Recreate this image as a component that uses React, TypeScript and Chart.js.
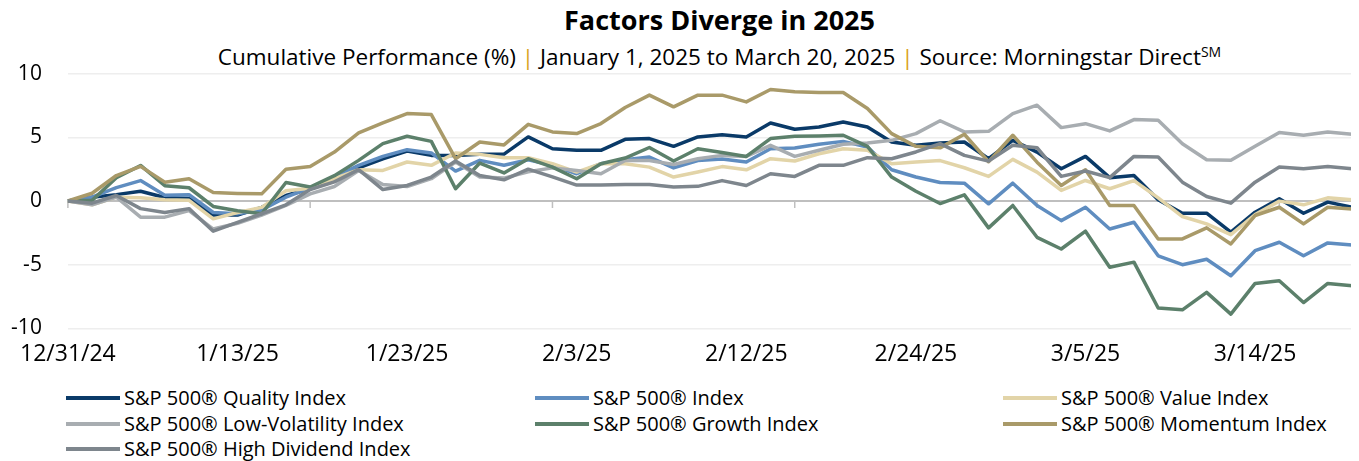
import React, { useEffect, useRef } from "react";
import { Chart, registerables } from "chart.js";

Chart.register(...registerables);

const FONT = "'Open Sans', sans-serif";

const dates = [
  "12/31/24", "1/2/25", "1/3/25", "1/6/25", "1/7/25", "1/8/25", "1/10/25", "1/13/25", "1/14/25", "1/15/25",
  "1/16/25", "1/17/25", "1/21/25", "1/22/25", "1/23/25", "1/24/25", "1/27/25", "1/28/25", "1/29/25", "1/30/25",
  "1/31/25", "2/3/25", "2/4/25", "2/5/25", "2/6/25", "2/7/25", "2/10/25", "2/11/25", "2/12/25", "2/13/25",
  "2/14/25", "2/18/25", "2/19/25", "2/20/25", "2/21/25", "2/24/25", "2/25/25", "2/26/25", "2/27/25", "2/28/25",
  "3/3/25", "3/4/25", "3/5/25", "3/6/25", "3/7/25", "3/10/25", "3/11/25", "3/12/25", "3/13/25", "3/14/25",
  "3/17/25", "3/18/25", "3/19/25", "3/20/25",
];

const quality = [
  0, 0.3, 0.5, 0.77, 0.27, 0.2, -1.1, -1.1, -0.5, 0.43,
  0.96, 1.75, 2.61, 3.31, 3.92, 3.58, 3.58, 3.66, 3.68, 5.03,
  4.1, 3.98, 3.98, 4.84, 4.9, 4.29, 5.03, 5.2, 5.03, 6.12,
  5.63, 5.81, 6.2, 5.81, 4.63, 4.37, 4.55, 4.63, 3.32, 4.76,
  3.84, 2.53, 3.5, 1.83, 2.01, 0.1, -0.96, -0.96, -2.45, -0.88,
  0.17, -0.96, -0.09, -0.49,
];
const sp500 = [
  0, 0.3, 1.05, 1.6, 0.45, 0.5, -0.9, -1.0, -0.7, 0.3,
  1.04, 1.88, 2.8, 3.5, 4.03, 3.77, 2.35, 3.19, 2.8, 3.24,
  2.8, 2.14, 2.93, 3.24, 3.45, 2.6, 3.18, 3.3, 3.06, 4.1,
  4.16, 4.45, 4.68, 4.24, 2.45, 1.88, 1.45, 1.4, -0.22, 1.4,
  -0.35, -1.54, -0.49, -2.2, -1.67, -4.3, -5.0, -4.57, -5.87, -3.9,
  -3.24, -4.3, -3.29, -3.45,
];
const value = [
  0, -0.3, 0.3, 0.25, 0.1, 0.05, -1.4, -0.9, -0.5, 0.8,
  1.0, 1.75, 2.46, 2.4, 3.06, 2.8, 3.77, 3.66, 3.4, 3.4,
  2.93, 2.27, 2.93, 2.93, 2.66, 1.88, 2.27, 2.7, 2.45, 3.32,
  3.14, 3.71, 4.1, 3.98, 2.93, 3.06, 3.17, 2.61, 1.93, 3.27,
  2.27, 0.83, 1.61, 0.96, 1.6, 0.25, -1.22, -1.8, -2.64, -1.06,
  -0.01, -0.3, 0.25, 0.09,
];
const lowVol = [
  0, -0.3, 0.3, -1.27, -1.27, -0.75, -2.2, -1.75, -1.1, -0.35,
  0.56, 1.14, 2.4, 1.3, 1.14, 1.75, 3.06, 1.88, 1.8, 2.3,
  2.6, 2.4, 2.14, 3.18, 3.18, 2.87, 3.32, 3.58, 3.5, 4.37,
  3.5, 3.98, 4.45, 4.55, 4.76, 5.29, 6.3, 5.42, 5.47, 6.86,
  7.52, 5.76, 6.07, 5.5, 6.39, 6.34, 4.5, 3.24, 3.19, 4.29,
  5.37, 5.16, 5.42, 5.24,
];
const growth = [
  0, 0.05, 1.82, 2.79, 1.2, 1.04, -0.43, -0.77, -1.0, 1.45,
  1.1, 1.99, 3.19, 4.5, 5.08, 4.68, 0.96, 2.98, 2.2, 3.32,
  2.66, 1.75, 2.93, 3.37, 4.2, 3.14, 4.1, 3.8, 3.5, 4.9,
  5.08, 5.1, 5.16, 4.29, 1.88, 0.77, -0.2, 0.48, -2.11, -0.35,
  -2.85, -3.77, -2.37, -5.2, -4.8, -8.4, -8.54, -7.17, -8.88, -6.47,
  -6.26, -7.97, -6.47, -6.65,
];
const momentum = [
  0, 0.61, 2.0, 2.72, 1.48, 1.74, 0.66, 0.59, 0.56, 2.5,
  2.71, 3.84, 5.34, 6.13, 6.86, 6.78, 3.32, 4.63, 4.4, 6.02,
  5.42, 5.29, 6.08, 7.34, 8.31, 7.39, 8.31, 8.31, 7.78, 8.75,
  8.57, 8.52, 8.52, 7.26, 5.29, 4.29, 4.17, 5.24, 3.08, 5.16,
  3.05, 1.22, 2.45, -0.35, -0.35, -2.98, -2.98, -2.11, -3.37, -1.14,
  -0.49, -1.8, -0.49, -0.62,
];
const highDiv = [
  0, -0.17, 0.43, -0.6, -0.9, -0.6, -2.37, -1.67, -1.0, -0.3,
  0.9, 1.5, 2.46, 0.9, 1.22, 1.88, 3.14, 2.0, 1.66, 2.5,
  1.9, 1.25, 1.25, 1.3, 1.3, 1.1, 1.15, 1.6, 1.22, 2.14,
  1.93, 2.8, 2.8, 3.4, 3.32, 3.85, 4.5, 3.58, 3.13, 4.37,
  4.18, 1.93, 2.35, 1.83, 3.5, 3.45, 1.48, 0.35, -0.17, 1.48,
  2.66, 2.53, 2.71, 2.53,
];

const seriesNames = [
  "S&P 500® Quality Index",
  "S&P 500® Index",
  "S&P 500® Value Index",
  "S&P 500® Low-Volatility Index",
  "S&P 500® Growth Index",
  "S&P 500® Momentum Index",
  "S&P 500® High Dividend Index",
];
const seriesData = [quality, sp500, value, lowVol, growth, momentum, highDiv];
const seriesColors = ["#0a3a68", "#5f8dc0", "#e2d4a8", "#a8adb1", "#5c806b", "#a99a69", "#7e868d"];

const yTicks = [-10, -5, 0, 5, 10];

export default function App() {
  const ref = useRef<HTMLCanvasElement>(null);

  useEffect(() => {
    document.documentElement.style.overflow = "hidden";
    const zeroTicks = {
      id: "zeroTicks",
      beforeDatasetsDraw(chart: any) {
        const xs = chart.scales.x;
        const ys = chart.scales.y;
        const y0 = ys.getPixelForValue(0);
        const ctx = chart.ctx;
        ctx.save();
        ctx.strokeStyle = "#bfbfbf";
        ctx.lineWidth = 1.5;
        for (let i = 0; i < dates.length; i += 10) {
          const px = xs.getPixelForValue(i);
          ctx.beginPath();
          ctx.moveTo(px, y0);
          ctx.lineTo(px, y0 + 7);
          ctx.stroke();
        }
        ctx.restore();
      },
    };

    const datasets = seriesNames
      .map((name, i) => ({
        label: name,
        data: seriesData[i],
        borderColor: seriesColors[i],
        backgroundColor: seriesColors[i],
        borderWidth: 3.5,
        pointRadius: 0,
        tension: 0,
        borderJoinStyle: "round" as const,
        fill: false,
      }))
      .reverse();

    const chart = new Chart(ref.current as HTMLCanvasElement, {
      type: "line",
      data: { labels: dates, datasets },
      options: {
        animation: false,
        responsive: false,
        layout: { padding: { top: 13.5, right: 6, left: 0, bottom: 0 } },
        plugins: {
          legend: { display: false },
          tooltip: { enabled: false },
          title: { display: false },
        },
        scales: {
          x: {
            grid: { display: false, drawTicks: false },
            border: { display: false },
            ticks: {
              autoSkip: false,
              maxRotation: 0,
              minRotation: 0,
              padding: 12,
              color: "#000",
              font: { family: FONT, size: 23 },
              callback: (_v: any, i: number) => (i % 7 === 0 ? dates[i] : null),
            },
          },
          y: {
            min: yTicks[0],
            max: yTicks[yTicks.length - 1],
            afterFit: (s: any) => {
              s.width = 58;
            },
            afterBuildTicks: (s: any) => {
              s.ticks = yTicks.map((v) => ({ value: v }));
            },
            ticks: {
              padding: 26,
              color: "#000",
              font: { family: FONT, size: 21 },
            },
            grid: {
              drawTicks: false,
              color: (c: any) => (c.tick && c.tick.value === 0 ? "#bfbfbf" : "#eeeeee"),
              lineWidth: (c: any) => (c.tick && c.tick.value === 0 ? 2 : 1.5),
            },
            border: { display: false },
          },
        },
      },
      plugins: [zeroTicks],
    });
    return () => chart.destroy();
  }, []);

  const pipe = <span style={{ color: "#d9a21b" }}>|</span>;
  const cols = [58, 527, 995];

  return (
    <div style={{ position: "relative", width: 1343, height: 453, fontFamily: FONT, color: "#000" }}>
      <div
        style={{
          position: "absolute",
          left: 80,
          top: -4,
          width: 1263,
          textAlign: "center",
          fontSize: 27,
          lineHeight: "32px",
          fontWeight: 700,
          whiteSpace: "nowrap",
        }}
      >
        Factors Diverge in 2025
      </div>
      <div
        style={{
          position: "absolute",
          left: 80,
          top: 35,
          width: 1263,
          textAlign: "center",
          fontSize: 22.5,
          lineHeight: "28px",
          whiteSpace: "nowrap",
        }}
      >
        Cumulative Performance (%) {pipe} January 1, 2025 to March 20, 2025 {pipe} Source: Morningstar Direct
        <sup style={{ fontSize: 14, lineHeight: 0 }}>SM</sup>
      </div>
      <canvas
        ref={ref}
        width={1350}
        height={345}
        style={{ position: "absolute", left: 0, top: 27, width: 1350, height: 345, display: "block" }}
      />
      {seriesNames.map((name, i) => {
        const row = Math.floor(i / 3);
        const col = i % 3;
        return (
          <div
            key={name}
            style={{
              position: "absolute",
              left: cols[col],
              top: 379 + row * 25.5,
              height: 22,
              display: "flex",
              alignItems: "center",
              whiteSpace: "nowrap",
              fontSize: 20,
              lineHeight: "22px",
            }}
          >
            <span
              style={{
                display: "inline-block",
                width: 54,
                height: 4,
                background: seriesColors[i],
                marginRight: 4,
              }}
            />
            <span>{name}</span>
          </div>
        );
      })}
    </div>
  );
}
